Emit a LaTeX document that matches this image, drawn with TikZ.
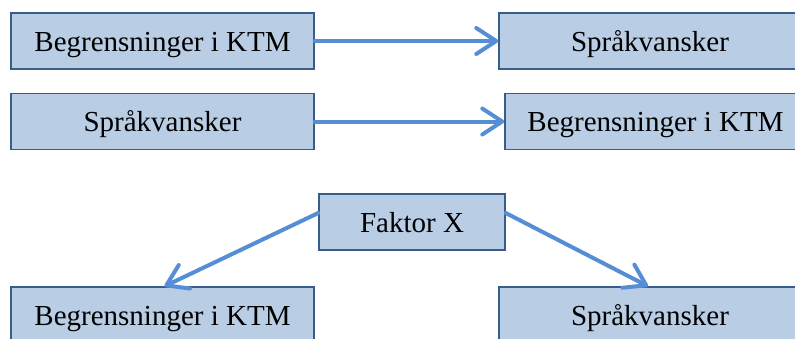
\documentclass[tikz,border=0pt]{standalone}
\usepackage{fontspec}
\setmainfont{Liberation Serif}
\usetikzlibrary{arrows.meta}
\definecolor{boxfill}{HTML}{B9CDE5}
\definecolor{boxline}{HTML}{385D8A}
\definecolor{arrowblue}{HTML}{558ED5}
\tikzset{factorbox/.style={rectangle, draw=boxline, line width=1.5pt, fill=boxfill,
    inner sep=0pt, minimum height=56pt, text height=26pt, text depth=6pt,
    font=\fontsize{29}{34}\selectfont},
  cause/.style={draw=arrowblue, line width=4pt, line cap=round,
    -{Straight Barb[length=20pt, width=26pt, line width=4pt, round]}}}

\begin{document}
\begin{tikzpicture}[x=1pt, y=-1pt]
        \useasboundingbox (0,0) rectangle (795,338);

        \node[factorbox, minimum width=303pt] (ktmA) at (162.5, 41) {Begrensninger i KTM};
        \node[factorbox, minimum width=302pt] (sprakA) at (650, 41) {Språkvansker};

        \node[factorbox, minimum width=303pt] (sprakB) at (162.5, 121.5) {Språkvansker};
        \node[factorbox, minimum width=301pt] (ktmB) at (655.5, 121.5) {Begrensninger i KTM};

        \node[factorbox, minimum width=186pt] (faktor) at (412, 222) {Faktor X};
        \node[factorbox, minimum width=303pt] (ktmC) at (162.5, 315) {Begrensninger i KTM};
        \node[factorbox, minimum width=302pt] (sprakC) at (650, 315) {Språkvansker};

        \draw (ktmA) edge[cause] (sprakA)
              (sprakB) edge[cause] (ktmB)
              ([yshift=9pt]faktor.west) edge[cause] ([xshift=2pt]ktmC.north)
              ([yshift=9pt]faktor.east) edge[cause] ([xshift=-2pt]sprakC.north);
    \end{tikzpicture}
\end{document}
